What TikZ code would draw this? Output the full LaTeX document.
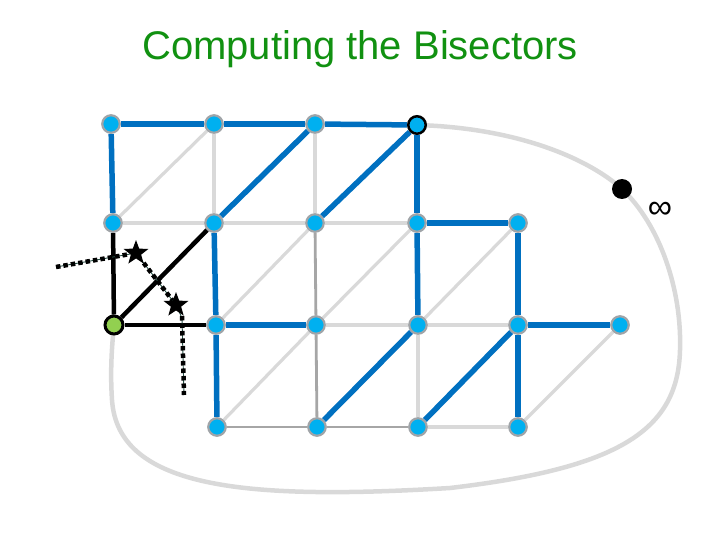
\documentclass[tikz,border=0pt]{standalone}
\usepackage{fontspec}
\setmainfont{Liberation Sans}
\usetikzlibrary{shapes.geometric}
\pgfdeclarelayer{bg}
\pgfsetlayers{bg,main}
\definecolor{eblue}{RGB}{0,112,192}
\definecolor{nblue}{RGB}{0,176,240}
\definecolor{nrim}{RGB}{160,164,168}
\definecolor{lgray}{RGB}{217,217,217}
\definecolor{mgray}{RGB}{166,166,166}
\definecolor{ngreen}{RGB}{146,208,80}
\definecolor{tgreen}{RGB}{17,145,17}
\definecolor{bisthin}{RGB}{40,80,70}
\tikzset{
  vtx/.style={circle, fill=nblue, draw=nrim, line width=2.2pt, minimum size=17.5pt, inner sep=0pt},
  vtxblack/.style={vtx, draw=black, line width=2.5pt},
  vtxgreen/.style={circle, fill=ngreen, draw=black, line width=3pt, minimum size=18pt, inner sep=0pt},
  beblue/.style={draw=eblue, line width=5.5pt},
  belight/.style={draw=lgray, line width=3.2pt},
  bemid/.style={draw=mgray, line width=2.8pt},
  beblack/.style={draw=black, line width=4.5pt},
  outline/.style={draw=lgray, line width=4.5pt},
  bisdots/.style={draw=black, line width=4.5pt, dash pattern=on 4.5pt off 3pt},
  bisline/.style={draw=bisthin, line width=0.9pt},
  starnode/.style={star, star points=5, star point ratio=2.4, fill=black, minimum size=26pt, inner sep=0pt},
}
\begin{document}
\begin{tikzpicture}[x=1pt,y=-1pt]
\useasboundingbox (0,0) rectangle (720,540);
\node[text=tgreen, font=\fontsize{40}{40}\selectfont, anchor=base] (title) at (360,60) {Computing the Bisectors};
% vertices
\node[vtx] (a1) at (111,124) {};
\node[vtx] (a2) at (214,124) {};
\node[vtx] (a3) at (315,124) {};
\node[vtxblack] (a4) at (417,125) {};
\node[vtx] (b1) at (113,223) {};
\node[vtx] (b2) at (214,223) {};
\node[vtx] (b3) at (315,223) {};
\node[vtx] (b4) at (417,223) {};
\node[vtx] (b5) at (518,223) {};
\node[vtxgreen] (c1) at (114,325) {};
\node[vtx] (c2) at (216,325) {};
\node[vtx] (c3) at (316,325) {};
\node[vtx] (c4) at (418,325) {};
\node[vtx] (c5) at (518,325) {};
\node[vtx] (c6) at (620,325) {};
\node[vtx] (d2) at (217,427) {};
\node[vtx] (d3) at (317,427) {};
\node[vtx] (d4) at (418,427) {};
\node[vtx] (d5) at (518,427) {};
\node[circle, fill=black, minimum size=20pt, inner sep=0pt] (inf) at (622,189) {};
\node[font=\fontsize{34}{34}\selectfont] (infl) at (660,210) {∞};
\begin{pgfonlayer}{bg}
% light gray edges
\draw[belight] (b1) -- (a2);
\draw[belight] (a2) -- (b2);
\draw[belight] (a3) -- (b3);
\draw[belight] (b1) -- (b2);
\draw[belight] (b2) -- (b3);
\draw[belight] (b3) -- (b4);
\draw[belight] (c2) -- (b3);
\draw[belight] (c3) -- (b4);
\draw[belight] (c4) -- (b5);
\draw[belight] (d2) -- (c3);
\draw[belight] (c3) -- (c4);
\draw[belight] (c4) -- (c5);
\draw[belight] (c4) -- (d4);
\draw[belight] (d4) -- (d5);
\draw[belight] (d5) -- (c6);
% medium gray edges
\draw[bemid] (b3) -- (c3);
\draw[bemid] (c3) -- (d3);
\draw[bemid] (d2) -- (d3);
\draw[bemid] (d3) -- (d4);
% outer face boundary
\draw[outline] (a4.center) .. controls (520,128) and (590,160) .. (inf.center)
  .. controls (660,225) and (682,290) .. (680,350)
  .. controls (678,430) and (620,468) .. (450,488)
  .. controls (250,500) and (118,490) .. (112,400)
  .. controls (110,370) and (112,345) .. (c1.center);
% blue edges
\draw[beblue] (a1) -- (a2);
\draw[beblue] (a2) -- (a3);
\draw[beblue] (a3) -- (a4);
\draw[beblue] (a1) -- (b1);
\draw[beblue] (b2) -- (a3);
\draw[beblue] (b3) -- (a4);
\draw[beblue] (a4) -- (b4);
\draw[beblue] (b4) -- (b5);
\draw[beblue] (b4) -- (c4);
\draw[beblue] (b5) -- (c5);
\draw[beblue] (b2) -- (c2);
\draw[beblue] (c2) -- (c3);
\draw[beblue] (c2) -- (d2);
\draw[beblue] (c5) -- (c6);
\draw[beblue] (c5) -- (d5);
\draw[beblue] (d3) -- (c4);
\draw[beblue] (d4) -- (c5);
% black edges
\draw[beblack] (b1) -- (c1);
\draw[beblack] (c1) -- (b2);
\draw[beblack] (c1) -- (c2);
\end{pgfonlayer}
% bisectors
\coordinate (p0) at (56,267);
\coordinate (p3) at (184,395);
\node[starnode] (s1) at (136,253) {};
\node[starnode] (s2) at (176,305) {};
\begin{pgfonlayer}{bg}
\draw[bisline] (p0) -- (s1.center) -- (s2.center) -- (182,318) -- (p3);
\draw[bisdots] (p0) -- (s1);
\draw[bisdots] (s1) -- (s2);
\draw[bisdots] (182,316) -- (p3);
\end{pgfonlayer}
\end{tikzpicture}
\end{document}
